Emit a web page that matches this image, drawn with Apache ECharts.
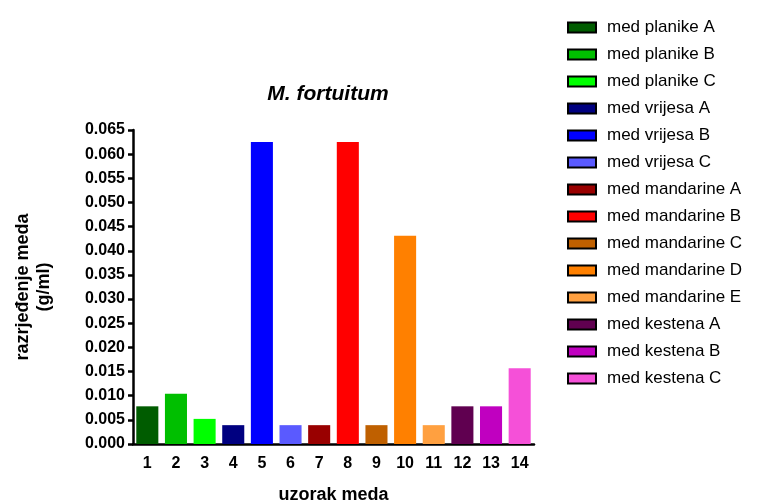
<!DOCTYPE html>
<html><head><meta charset="utf-8">
<script src="https://cdn.jsdelivr.net/npm/echarts@6/dist/echarts.min.js"></script>
<style>html,body{margin:0;padding:0;background:#fff}#c{width:779px;height:501px}</style>
</head><body><div id="c"></div>
<script>
const categories = ['1','2','3','4','5','6','7','8','9','10','11','12','13','14'];
const seriesNames = ['med planike A','med planike B','med planike C','med vrijesa A','med vrijesa B','med vrijesa C','med mandarine A','med mandarine B','med mandarine C','med mandarine D','med mandarine E','med kestena A','med kestena B','med kestena C'];
const values = [0.0078, 0.0104, 0.0052, 0.0039, 0.0625, 0.0039, 0.0039, 0.0625, 0.0039, 0.0431, 0.0039, 0.0078, 0.0078, 0.0157];
const colors = ['#005c00','#00bf00','#00ff00','#000080','#0000ff','#5a5aff','#990000','#ff0000','#bf6000','#ff8000','#ffa040','#600050','#c000c0','#f550d8'];
const yTicks = {min: 0, max: 0.065, interval: 0.005};

const font = 'Liberation Sans, Arial, sans-serif';
const series = seriesNames.map((name, i) => ({
  name: name,
  type: 'bar',
  stack: 'all',
  barWidth: '77%',
  data: values.map((v, j) => j === i ? v : '-'),
  itemStyle: {color: colors[i], borderColor: '#000', borderWidth: 0},
  emphasis: {disabled: true}
}));

const chart = echarts.init(document.getElementById('c'));
chart.setOption({
  animation: false,
  title: {
    text: 'M. fortuitum', left: 323, top: 79, textAlign: 'center',
    textStyle: {fontFamily: font, fontSize: 21, fontWeight: 'bold', fontStyle: 'italic', color: '#000'}
  },
  legend: {
    orient: 'vertical', left: 562, top: 14, itemGap: 10, itemWidth: 28, itemHeight: 10,
    icon: 'rect',
    itemStyle: {borderColor: '#000', borderWidth: 2},
    textStyle: {fontFamily: font, fontSize: 17, color: '#000', padding: [0,0,0,6]},
    data: seriesNames
  },
  grid: {left: 133, right: 245, top: 130, bottom: 57, containLabel: false, outerBoundsMode: 'none'},
  xAxis: {
    type: 'category', data: categories,
    name: 'uzorak meda', nameLocation: 'middle', nameGap: 42,
    nameTextStyle: {fontFamily: font, fontSize: 18, fontWeight: 'bold', color: '#000'},
    axisLine: {lineStyle: {color: '#000', width: 2.5}},
    axisTick: {alignWithLabel: true, length: 6, lineStyle: {width: 2.5, color: '#000'}},
    axisLabel: {fontFamily: font, fontSize: 16, fontWeight: 'bold', color: '#000', margin: 12}
  },
  yAxis: {
    type: 'value', min: yTicks.min, max: yTicks.max, interval: yTicks.interval,
    name: 'razrjeđenje meda\n(g/ml)', nameLocation: 'middle', nameGap: 78, nameRotate: 90,
    nameTextStyle: {fontFamily: font, fontSize: 18, fontWeight: 'bold', color: '#000', lineHeight: 21},
    axisLine: {show: true, lineStyle: {color: '#000', width: 2.5}},
    axisTick: {show: true, length: 5, lineStyle: {width: 2.5, color: '#000'}},
    splitLine: {show: false},
    axisLabel: {fontFamily: font, fontSize: 16, fontWeight: 'bold', color: '#000', margin: 8,
      formatter: v => v.toFixed(3)}
  },
  series: series
});
</script></body></html>
